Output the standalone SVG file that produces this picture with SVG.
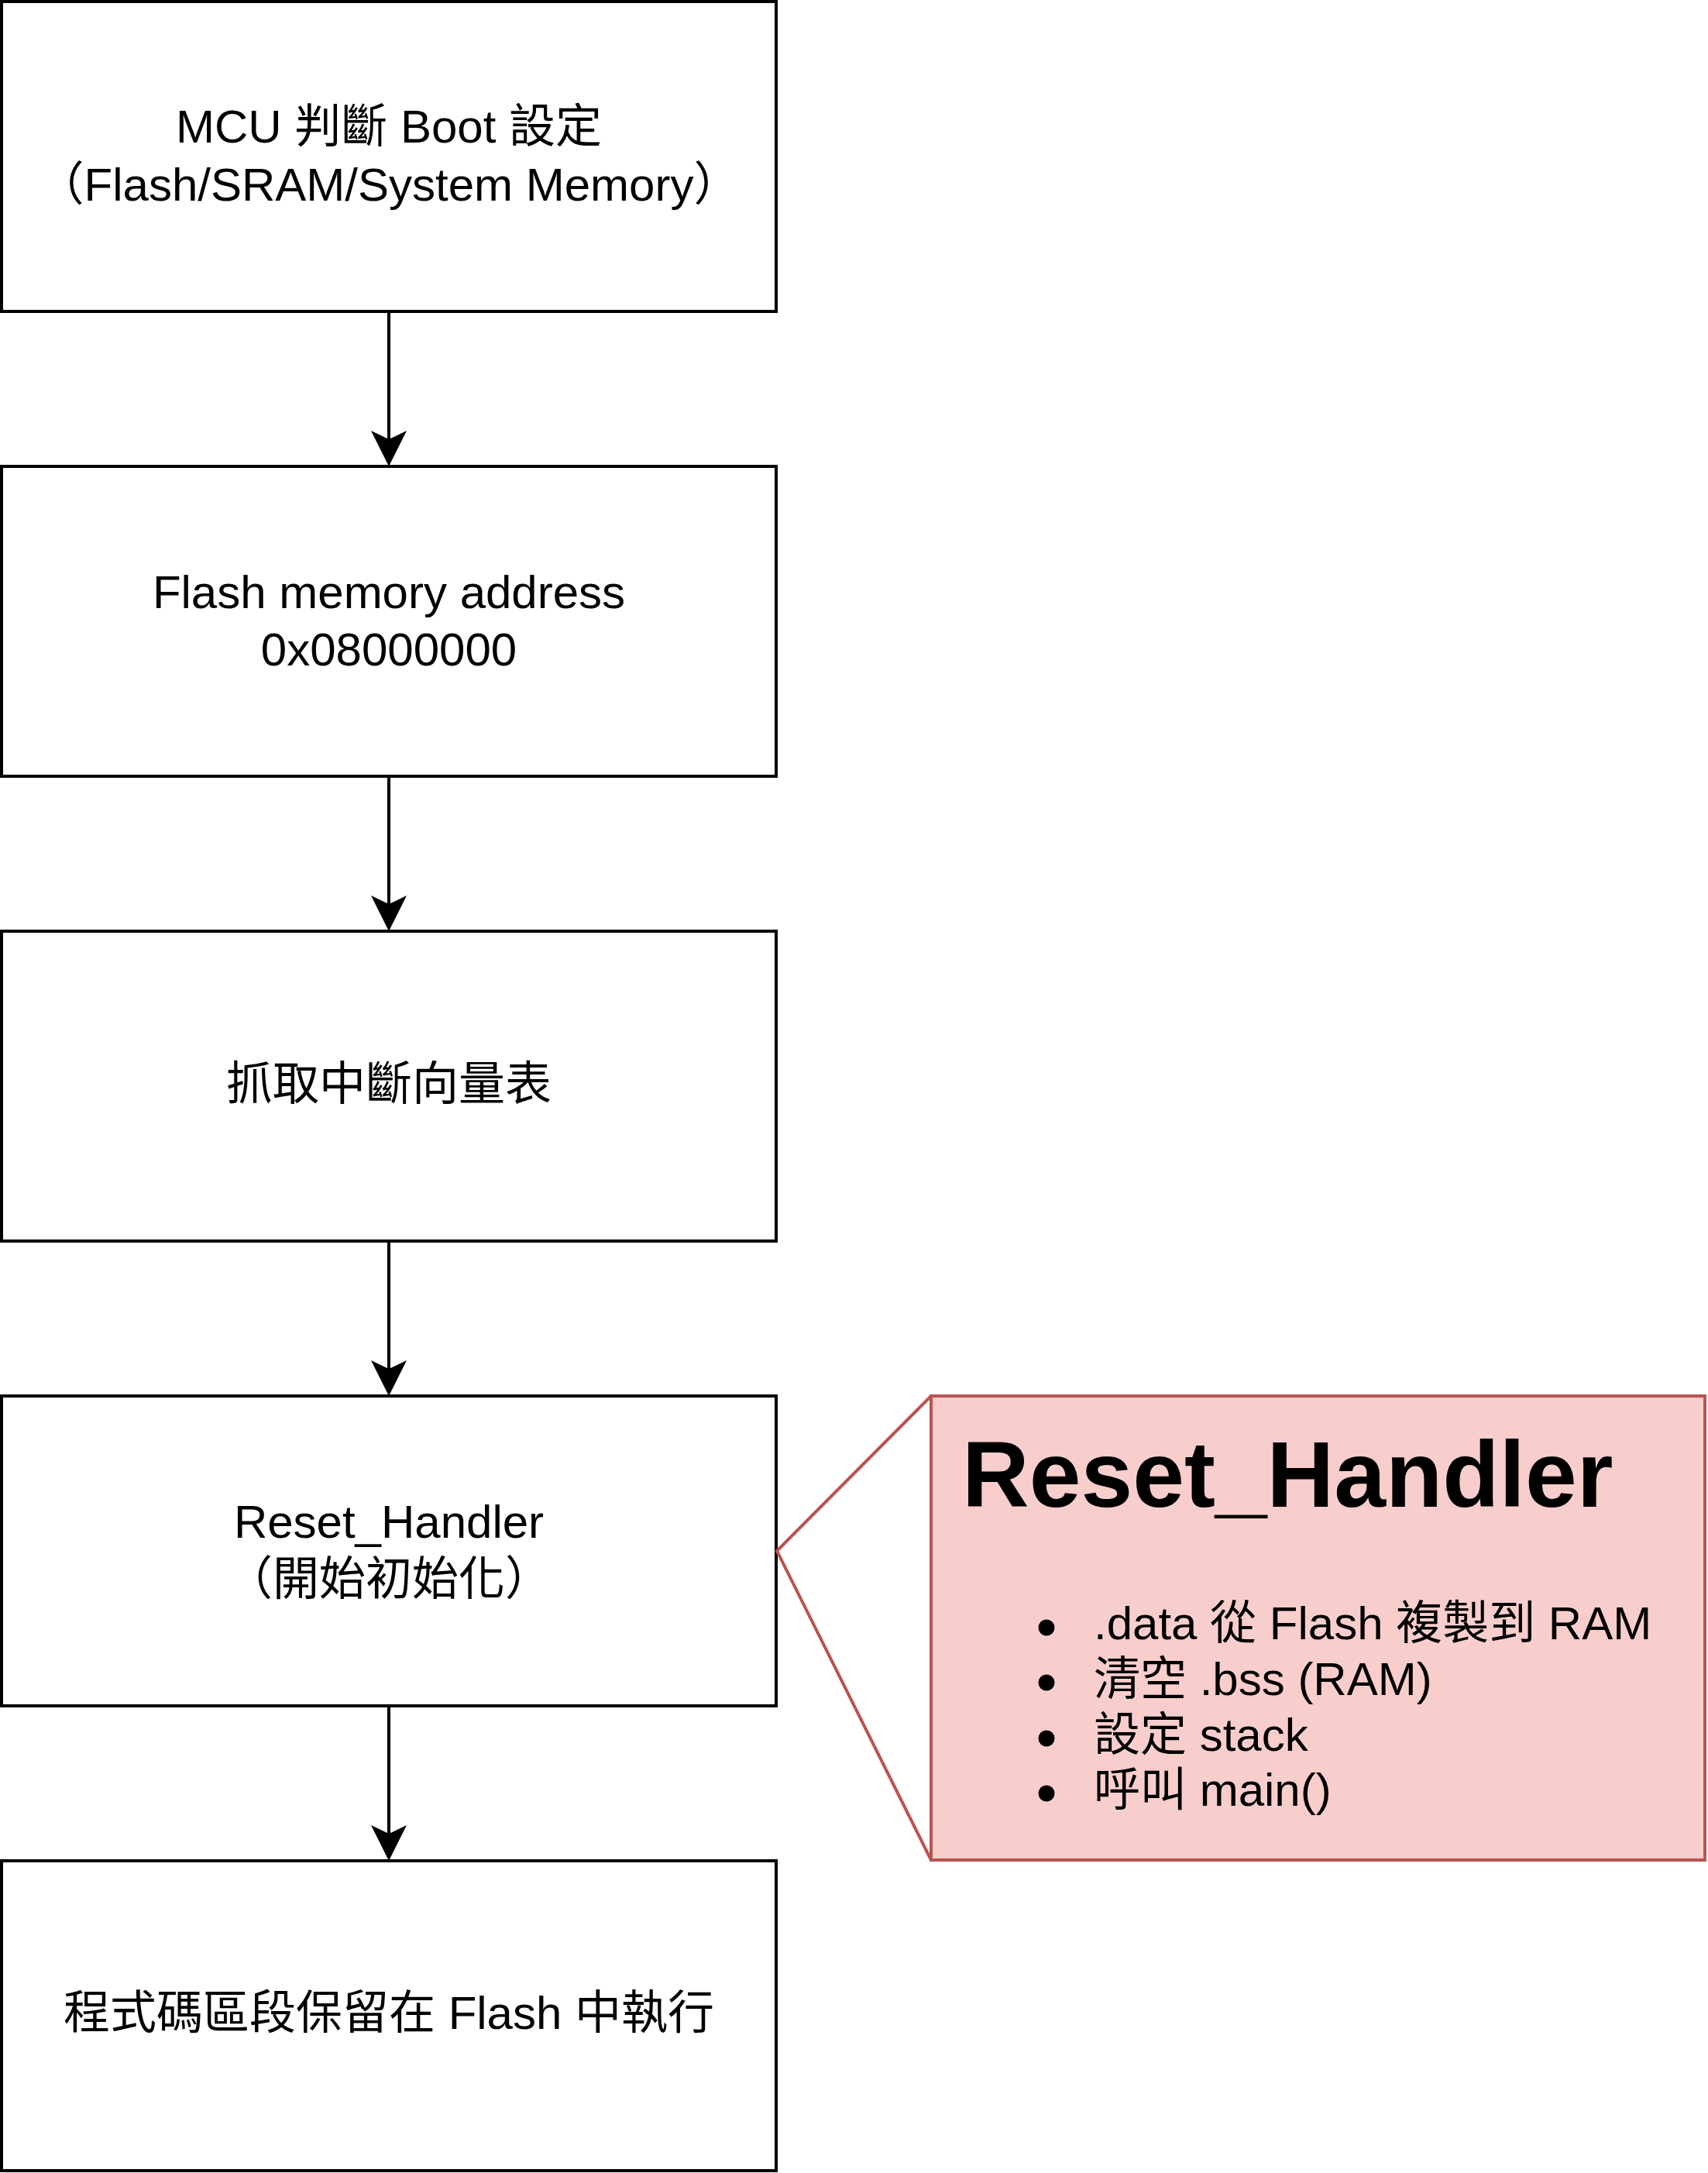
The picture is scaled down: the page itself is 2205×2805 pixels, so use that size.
<svg xmlns="http://www.w3.org/2000/svg" width="2205" height="2805" viewBox="0 0 2205 2805">
<defs>
<style>
.box{fill:#ffffff;stroke:#000000;stroke-width:4}
.t{font-family:"Liberation Sans","Noto Sans CJK TC",Arial,sans-serif;font-size:60px;fill:#000000;text-anchor:middle}
.tl{font-family:"Liberation Sans","Noto Sans CJK TC",Arial,sans-serif;font-size:60px;fill:#000000}
.title{font-family:"Liberation Sans","Noto Sans CJK TC",Arial,sans-serif;font-size:120px;font-weight:bold;fill:#000000}
.edge{fill:none;stroke:#000000;stroke-width:4}
.call{fill:#f8cecc;stroke:#b85450;stroke-width:4}
.callline{fill:none;stroke:#b85450;stroke-width:4;stroke-linejoin:miter}
.dot{fill:#000000}
</style>
<marker id="arrow" markerUnits="userSpaceOnUse" viewBox="0 0 46 46" refX="24" refY="23" markerWidth="46" markerHeight="46" orient="auto">
<path d="M0,0 L46,23 L0,46 L11,23 Z" fill="#000000"/>
</marker>
</defs>
<rect x="0" y="0" width="2205" height="2805" fill="#ffffff"/>
<g id="connectors">
<line class="edge" x1="502" y1="404" x2="502" y2="580" marker-end="url(#arrow)"/>
<line class="edge" x1="502" y1="1004" x2="502" y2="1180" marker-end="url(#arrow)"/>
<line class="edge" x1="502" y1="1604" x2="502" y2="1780" marker-end="url(#arrow)"/>
<line class="edge" x1="502" y1="2204" x2="502" y2="2380" marker-end="url(#arrow)"/>
</g>
<g id="node-boot">
<rect class="box" x="2" y="2" width="1000" height="400"/>
<text class="t" x="502" y="184">MCU 判斷 Boot 設定</text>
<text class="t" x="502" y="259">（Flash/SRAM/System Memory）</text>
</g>
<g id="node-flash">
<rect class="box" x="2" y="602" width="1000" height="400"/>
<text class="t" x="502" y="785">Flash memory address</text>
<text class="t" x="502" y="859">0x08000000</text>
</g>
<g id="node-vector">
<rect class="box" x="2" y="1202" width="1000" height="400"/>
<text class="t" x="502" y="1420">抓取中斷向量表</text>
</g>
<g id="node-reset">
<rect class="box" x="2" y="1802" width="1000" height="400"/>
<text class="t" x="502" y="1985">Reset_Handler</text>
<text class="t" x="502" y="2059">（開始初始化）</text>
</g>
<g id="node-exec">
<rect class="box" x="2" y="2402" width="1000" height="400"/>
<text class="t" x="502" y="2619">程式碼區段保留在 Flash 中執行</text>
</g>
<g id="node-callout">
<rect class="call" x="1202" y="1802" width="999" height="599"/>
<polyline class="callline" points="1202,1802 1003,2002 1202,2401"/>
<text class="title" x="1242" y="1945">Reset_Handler</text>
<circle class="dot" cx="1351" cy="2101" r="10.5"/>
<circle class="dot" cx="1351" cy="2172" r="10.5"/>
<circle class="dot" cx="1351" cy="2244" r="10.5"/>
<circle class="dot" cx="1351" cy="2315" r="10.5"/>
<text class="tl" x="1412" y="2116">.data 從 Flash 複製到 RAM</text>
<text class="tl" x="1412" y="2188">清空 .bss (RAM)</text>
<text class="tl" x="1412" y="2260">設定 stack</text>
<text class="tl" x="1412" y="2331">呼叫 main()</text>
</g>
</svg>
